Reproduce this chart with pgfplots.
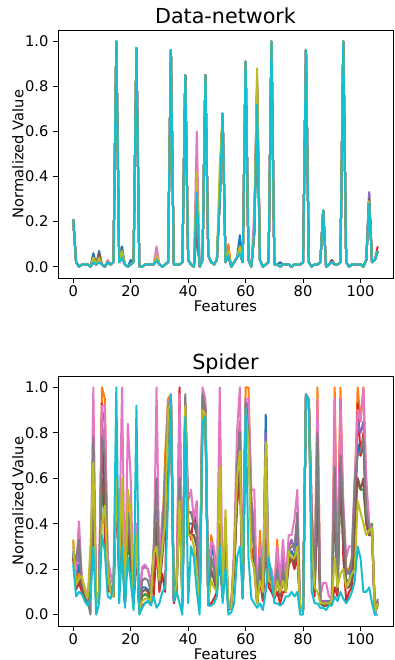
\documentclass[border=0pt]{standalone}
\usepackage{pgfplots}
\pgfplotsset{compat=1.18}
\usepackage{pgfplotstable}
\usepackage{fontspec}
\setmainfont{DejaVu Sans}
\definecolor{cb}{HTML}{1F77B4}
\definecolor{co}{HTML}{FF7F0E}
\definecolor{cg}{HTML}{2CA02C}
\definecolor{cr}{HTML}{D62728}
\definecolor{cp}{HTML}{9467BD}
\definecolor{cn}{HTML}{8C564B}
\definecolor{ck}{HTML}{E377C2}
\definecolor{cy}{HTML}{7F7F7F}
\definecolor{cl}{HTML}{BCBD22}
\definecolor{cc}{HTML}{17BECF}

\pgfplotstableread{
x b o g r p n k y l c
0 .21 .21 .21 .21 .21 .21 .21 .21 .21 .21
1 .02 .02 .02 .02 .02 .02 .02 .02 .02 .02
2 .00 .00 .00 .00 .00 .00 .00 .00 .00 .00
3 .01 .01 .01 .01 .01 .01 .01 .01 .01 .01
4 .01 .01 .01 .01 .01 .01 .01 .01 .01 .01
5 .01 .01 .01 .01 .01 .01 .01 .01 .01 .01
6 .00 .00 .00 .00 .00 .00 .00 .00 .00 .00
7 .06 .02 .02 .03 .02 .04 .02 .02 .04 .02
8 .01 .01 .01 .01 .01 .01 .01 .01 .01 .01
9 .07 .03 .02 .04 .05 .06 .02 .02 .04 .02
10 .01 .01 .01 .01 .01 .01 .01 .01 .01 .01
11 .00 .00 .00 .00 .00 .00 .00 .00 .00 .00
12 .02 .02 .02 .02 .02 .02 .03 .02 .02 .02
13 .01 .01 .01 .01 .01 .01 .01 .01 .01 .01
14 .02 .02 .02 .02 .02 .02 .02 .02 .02 .02
15 1.0 1.0 1.0 1.0 1.0 1.0 1.0 1.0 1.0 1.0
16 .02 .02 .02 .02 .02 .02 .02 .02 .02 .02
17 .09 .04 .04 .04 .04 .06 .04 .04 .07 .04
18 .01 .01 .01 .01 .01 .01 .01 .01 .01 .01
19 .00 .00 .00 .00 .00 .00 .00 .00 .00 .00
20 .03 .01 .01 .01 .01 .01 .01 .01 .01 .01
21 .02 .02 .02 .02 .02 .02 .02 .02 .02 .02
22 .97 .97 .97 .97 .97 .97 .97 .97 .97 .97
23 .00 .00 .00 .00 .00 .00 .00 .00 .00 .00
24 .00 .00 .00 .00 .00 .00 .00 .00 .00 .00
25 .01 .01 .01 .01 .01 .01 .01 .01 .01 .01
26 .01 .01 .01 .01 .01 .01 .01 .01 .01 .01
27 .01 .01 .01 .01 .01 .01 .01 .01 .01 .01
28 .01 .01 .01 .01 .01 .01 .01 .01 .01 .01
29 .03 .03 .03 .03 .03 .04 .09 .03 .05 .03
30 .01 .01 .01 .01 .01 .01 .01 .01 .01 .01
31 .00 .00 .00 .00 .00 .00 .00 .00 .00 .00
32 .01 .01 .01 .01 .01 .01 .01 .01 .01 .01
33 .02 .02 .02 .02 .02 .02 .02 .02 .02 .02
34 .96 .96 .96 .96 .96 .96 .96 .96 .96 .96
35 .01 .01 .01 .01 .01 .01 .01 .01 .01 .01
36 .01 .01 .01 .01 .01 .01 .01 .01 .01 .01
37 .01 .01 .01 .01 .01 .01 .01 .01 .01 .01
38 .02 .02 .02 .02 .02 .02 .02 .02 .02 .02
39 .85 .85 .85 .85 .85 .85 .85 .85 .85 .85
40 .03 .03 .03 .03 .03 .03 .03 .03 .03 .03
41 .01 .01 .01 .01 .01 .01 .01 .01 .01 .01
42 .00 .00 .00 .00 .00 .00 .00 .00 .00 .00
43 .15 .25 .20 .18 .22 .20 .60 .25 .42 .33
44 .00 .00 .00 .00 .00 .00 .00 .00 .00 .00
45 .03 .03 .03 .03 .03 .03 .03 .03 .03 .03
46 .85 .85 .85 .85 .85 .85 .85 .85 .85 .85
47 .05 .05 .05 .05 .05 .05 .05 .05 .05 .05
48 .02 .02 .02 .02 .02 .02 .02 .02 .02 .02
49 .01 .01 .01 .01 .01 .01 .01 .01 .01 .01
50 .03 .03 .03 .03 .03 .03 .03 .03 .03 .03
51 .30 .30 .30 .30 .30 .30 .30 .30 .45 .30
52 .68 .68 .68 .68 .68 .68 .68 .68 .68 .68
53 .02 .02 .02 .02 .02 .02 .02 .02 .02 .02
54 .05 .10 .05 .05 .05 .05 .05 .05 .07 .05
55 .00 .00 .00 .00 .00 .00 .00 .00 .00 .00
56 .02 .02 .02 .02 .02 .02 .02 .02 .02 .02
57 .04 .04 .04 .04 .04 .04 .04 .04 .04 .04
58 .14 .06 .06 .06 .06 .08 .08 .06 .09 .06
59 .02 .02 .02 .02 .02 .02 .02 .02 .02 .02
60 .91 .91 .91 .91 .91 .91 .91 .91 .91 .91
61 .03 .03 .03 .03 .03 .03 .03 .03 .03 .03
62 .00 .00 .00 .00 .00 .00 .00 .00 .00 .00
63 .15 .15 .15 .15 .15 .15 .25 .15 .15 .15
64 .72 .80 .72 .78 .85 .82 .75 .74 .88 .72
65 .03 .03 .03 .03 .03 .03 .03 .03 .03 .03
66 .00 .00 .00 .00 .00 .00 .00 .00 .00 .00
67 .01 .01 .01 .01 .01 .01 .01 .01 .01 .01
68 .02 .02 .02 .02 .02 .02 .02 .02 .02 .02
69 1.0 1.0 1.0 1.0 1.0 1.0 1.0 1.0 1.0 1.0
70 .01 .01 .01 .01 .01 .01 .01 .01 .01 .01
71 .01 .01 .01 .01 .01 .01 .01 .01 .01 .01
72 .02 .00 .00 .00 .00 .00 .00 .00 .00 .00
73 .01 .01 .01 .01 .01 .01 .01 .01 .01 .01
74 .01 .01 .01 .01 .01 .01 .01 .01 .01 .01
75 .01 .01 .01 .01 .01 .01 .01 .01 .01 .01
76 .00 .00 .00 .00 .00 .00 .00 .00 .00 .00
77 .01 .01 .01 .01 .01 .01 .01 .01 .01 .01
78 .01 .01 .01 .01 .01 .01 .01 .01 .01 .01
79 .01 .01 .01 .01 .01 .01 .01 .01 .01 .01
80 .02 .02 .02 .02 .02 .02 .02 .02 .02 .02
81 .96 .96 .96 .96 .96 .96 .96 .96 .96 .96
82 .02 .02 .02 .02 .02 .02 .02 .02 .02 .02
83 .00 .00 .00 .00 .00 .00 .00 .00 .00 .00
84 .01 .01 .01 .01 .01 .01 .01 .01 .01 .01
85 .01 .01 .01 .01 .01 .01 .01 .01 .01 .01
86 .02 .02 .02 .02 .02 .02 .02 .02 .02 .02
87 .25 .25 .25 .25 .25 .25 .25 .25 .25 .25
88 .00 .00 .00 .00 .00 .00 .00 .00 .00 .00
89 .01 .01 .01 .01 .01 .01 .01 .01 .01 .01
90 .02 .02 .02 .03 .02 .03 .02 .02 .02 .02
91 .01 .01 .01 .01 .01 .01 .01 .01 .01 .01
92 .01 .01 .01 .01 .01 .01 .01 .01 .01 .01
93 .02 .02 .02 .02 .02 .02 .02 .02 .02 .02
94 1.0 1.0 1.0 1.0 1.0 1.0 1.0 1.0 1.0 1.0
95 .02 .02 .02 .02 .02 .02 .02 .02 .02 .02
96 .00 .00 .00 .00 .00 .00 .00 .00 .00 .00
97 .01 .01 .01 .01 .01 .01 .01 .01 .01 .01
98 .01 .01 .01 .01 .01 .01 .01 .01 .01 .01
99 .01 .01 .01 .01 .01 .01 .01 .01 .01 .01
100 .01 .01 .01 .01 .01 .01 .01 .01 .01 .01
101 .00 .00 .00 .00 .00 .00 .00 .00 .00 .00
102 .03 .03 .03 .03 .03 .03 .03 .03 .03 .03
103 .33 .29 .29 .30 .33 .30 .29 .29 .29 .28
104 .02 .02 .02 .02 .02 .02 .02 .02 .02 .02
105 .03 .03 .03 .03 .03 .03 .03 .03 .03 .03
106 .07 .07 .07 .09 .07 .07 .07 .07 .07 .07
}\topdata

\pgfplotstableread{
x b o g r p n k y l c
0 .27 .33 .25 .25 .28 .26 .30 .27 .32 .22
1 .15 .14 .12 .11 .18 .13 .20 .24 .13 .08
2 .22 .18 .15 .14 .28 .16 .41 .33 .16 .10
3 .12 .15 .14 .10 .14 .12 .16 .15 .17 .09
4 .08 .10 .09 .08 .10 .08 .12 .10 .11 .06
5 .05 .07 .06 .05 .07 .05 .08 .06 .07 .04
6 .10 .15 .12 .12 .10 .10 .15 .00 .30 .07
7 .55 .60 .50 .45 .60 .50 1.0 .78 .67 .30
8 .05 .06 .05 .05 .06 .05 .08 .05 .05 .00
9 .08 .10 .08 .07 .09 .08 .10 .09 .10 .05
10 .72 1.0 .55 .93 .90 .60 .92 .78 .40 .35
11 .60 .95 .45 .33 .85 .50 .92 .70 .48 .28
12 .15 .20 .15 .10 .18 .14 .25 .20 .18 .08
13 .10 .12 .10 .12 .12 .10 .18 .12 .10 .07
14 .08 .10 .08 .08 .09 .08 .12 .10 .08 .12
15 .60 .65 .60 .55 .65 .55 .70 .65 .60 1.0
16 .20 .25 .20 .15 .25 .18 .30 .25 .22 .05
17 .30 .45 .30 .35 .35 .30 1.0 .40 .60 .30
18 .05 .06 .05 .05 .06 .05 .07 .06 .05 .03
19 .35 .50 .35 .40 .40 .35 .84 .45 .55 .25
20 .25 .30 .20 .30 .30 .25 .60 .35 .45 .15
21 .05 .06 .05 .05 .06 .05 .08 .06 .06 .02
22 .30 .35 .30 .30 .35 .30 .40 .35 .35 .92
23 .02 .02 .02 .01 .03 .02 .03 .02 .02 .00
24 .12 .08 .08 .04 .20 .10 .21 .15 .06 .03
25 .12 .09 .09 .05 .21 .11 .22 .16 .07 .05
26 .11 .09 .08 .06 .20 .10 .20 .15 .07 .06
27 .08 .07 .06 .05 .14 .07 .15 .10 .06 .04
28 .25 .20 .22 .08 .25 .20 .22 .30 .27 .08
29 .45 .50 .40 .30 .55 .40 1.0 .60 .30 .03
30 .15 .18 .15 .10 .18 .12 .20 .18 .15 .05
31 .30 .35 .30 .18 .40 .25 .45 .35 .30 .10
32 .55 .70 .45 .10 .55 .40 .50 .60 .40 .12
33 .90 .95 .85 .90 .92 .88 .93 .90 .90 .50
34 .93 .97 .92 .95 .95 .92 .96 .96 .94 .97
35 .06 .08 .07 .05 .07 .06 .08 .07 .08 .06
36 .12 .15 .12 .10 .14 .12 .16 .15 .13 .10
37 .60 .70 .50 1.0 .65 .55 .97 .60 .50 .05
38 .05 .06 .05 .04 .06 .05 .08 .06 .05 .00
39 .90 .92 .88 .90 .92 .90 .95 .97 .92 .87
40 .40 .45 .35 .40 .45 .38 .50 .45 .35 .05
41 .40 .45 .35 .33 .45 .35 .55 .45 .35 .30
42 .40 .42 .35 .45 .40 .35 .42 .40 .30 .25
43 .35 .40 .30 .38 .40 .30 .50 .40 .20 .10
44 .03 .04 .03 .03 .04 .03 .05 .04 .03 .00
45 .90 .95 .85 .92 .95 .90 1.0 .97 .90 .85
46 .90 .93 .85 .90 .92 .88 .95 .90 .88 .87
47 .05 .06 .05 .04 .05 .05 .06 .05 .05 .04
48 .30 .35 .25 .05 .32 .20 .32 .25 .15 .04
49 .25 .28 .20 .07 .28 .15 .30 .20 .12 .05
50 .10 .12 .10 .10 .12 .10 .15 .12 .10 .08
51 .30 .35 .30 .25 .35 .30 1.0 .40 .65 .30
52 .08 .10 .08 .07 .09 .08 .12 .10 .10 .05
53 .30 .32 .30 .25 .30 .28 .35 .30 .46 .20
54 .03 .03 .03 .02 .03 .03 .04 .03 .03 .00
55 .03 .04 .03 .03 .04 .03 .04 .04 .03 .01
56 .20 .25 .20 .20 .25 .20 .30 .25 .25 .05
57 .55 .60 .50 .48 .60 .50 .80 .65 .60 .25
58 .80 .85 .75 .60 .85 .70 1.0 .80 .72 .30
59 .08 .10 .08 .07 .10 .08 .12 .10 .08 .07
60 .92 1.0 .90 .92 .95 .90 .95 .93 .90 .91
61 .85 1.0 .80 .85 .90 .80 .95 .80 .75 .25
62 .45 .50 .40 .30 .50 .40 .55 .45 .25 .07
63 .30 .40 .30 .20 .35 .30 .55 .30 .20 .05
64 .05 .08 .05 .05 .06 .05 .08 .06 .05 .03
65 .25 .37 .20 .15 .28 .20 .30 .25 .15 .05
66 .08 .10 .08 .06 .08 .07 .12 .10 .10 .02
67 .88 .40 .30 .35 .80 .30 .45 .30 .76 .10
68 .18 .20 .15 .12 .20 .15 .22 .18 .15 .25
69 .15 .18 .12 .10 .15 .12 .20 .15 .14 .18
70 .08 .10 .08 .07 .10 .08 .12 .08 .08 .05
71 .25 .33 .20 .10 .25 .15 .30 .20 .15 .05
72 .10 .12 .08 .05 .10 .08 .15 .10 .10 .04
73 .20 .25 .18 .10 .25 .15 .33 .20 .15 .05
74 .12 .12 .10 .10 .15 .10 .15 .12 .10 .08
75 .25 .30 .22 .25 .30 .22 .35 .28 .28 .08
76 .28 .32 .25 .25 .33 .25 .35 .30 .25 .10
77 .25 .30 .22 .20 .28 .22 .42 .30 .25 .08
78 .35 .40 .30 .25 .40 .30 .55 .45 .30 .10
79 .02 .02 .02 .02 .02 .02 .03 .02 .02 .00
80 .02 .02 .02 .02 .02 .02 .03 .02 .02 .00
81 .96 .97 .95 .96 .96 .95 .97 .96 .95 .97
82 .94 .95 .93 .94 .94 .93 .95 .94 .93 .94
83 .40 .45 .35 .30 .40 .35 .50 .45 .30 .10
84 .10 .12 .10 .08 .12 .10 .15 .12 .12 .05
85 .60 1.0 .50 .55 .70 .55 .95 .80 .10 .05
86 .05 .06 .05 .05 .06 .05 .08 .06 .05 .03
87 .05 .05 .04 .04 .06 .04 .14 .05 .05 .03
88 .05 .05 .04 .04 .06 .04 .14 .05 .05 .02
89 .05 .06 .05 .05 .06 .05 .08 .06 .05 .04
90 .06 .06 .05 .05 .06 .05 .07 .06 .06 .04
91 .60 1.0 .50 .12 .70 .50 .95 .65 .25 .08
92 .10 .12 .10 .08 .12 .10 .15 .12 .12 .06
93 .70 1.0 .60 .95 .75 .60 .95 .70 .18 .10
94 .35 .45 .30 .25 .40 .30 .50 .45 .20 .07
95 .15 .20 .12 .06 .18 .12 .25 .20 .12 .05
96 .15 .20 .12 .10 .18 .12 .30 .18 .15 .07
97 .20 .25 .15 .12 .22 .15 .30 .25 .18 .10
98 .45 .55 .40 .30 .50 .40 .60 .60 .20 .15
99 .75 1.0 .60 .93 .85 .60 .90 .70 .50 .30
100 .70 .85 .55 .70 .80 .55 .85 .72 .45 .25
101 .75 1.0 .55 .80 .85 .60 1.0 .78 .40 .10
102 .45 .55 .40 .40 .55 .40 .60 .45 .35 .10
103 .37 .40 .35 .35 .40 .35 .40 .38 .37 .12
104 .37 .38 .40 .35 .38 .35 .38 .35 .38 .05
105 .00 .02 .01 .02 .01 .01 .02 .00 .01 .00
106 .05 .05 .04 .05 .06 .05 .06 .07 .05 .00
}\botdata

\pgfplotsset{
  mpl/.style={
    scale only axis, width=251.25pt,
    xmin=-5.3, xmax=111.3, ymin=-0.05, ymax=1.05,
    xtick={0,20,40,60,80,100},
    ytick={0,0.2,0.4,0.6,0.8,1.0},
    yticklabel style={/pgf/number format/.cd, fixed, fixed zerofill, precision=1},
    /pgf/number format/assume math mode=true,
    tick align=outside, xtick pos=bottom, ytick pos=left,
    major tick length=3.6pt,
    tick style={black, line width=0.6pt},
    axis line style={line width=0.6pt},
    ticklabel style={font=\fontsize{11}{13}\selectfont},
    xticklabel style={yshift=1.2pt},
    label style={font=\fontsize{11}{13}\selectfont, inner sep=0.5pt},
    x label style={at={(axis description cs:0.5,0)}, anchor=center, yshift=-21.5pt},
    y label style={at={(axis description cs:0,0.5)}, anchor=center, yshift=30pt},
    title style={font=\fontsize{15.5}{18}\selectfont, at={(axis description cs:0.5,1)}, anchor=base, yshift=-1.5pt},
    xlabel={Features}, ylabel={Normalized Value},
    every axis plot/.append style={line width=1.5pt, no markers, line join=round},
  }
}

\begin{document}
\begin{tikzpicture}
\useasboundingbox (0,0) rectangle (295.5pt,495pt);
\begin{axis}[mpl, at={(43.5pt,286.5pt)}, anchor=south west, height=186pt, title={Data-network}]
\addplot[cb] table[x=x,y=b]{\topdata};
\addplot[co] table[x=x,y=o]{\topdata};
\addplot[cg] table[x=x,y=g]{\topdata};
\addplot[cr] table[x=x,y=r]{\topdata};
\addplot[cp] table[x=x,y=p]{\topdata};
\addplot[cn] table[x=x,y=n]{\topdata};
\addplot[ck] table[x=x,y=k]{\topdata};
\addplot[cy] table[x=x,y=y]{\topdata};
\addplot[cl] table[x=x,y=l]{\topdata};
\addplot[cc] table[x=x,y=c]{\topdata};
\end{axis}
\begin{axis}[mpl, at={(43.5pt,25.5pt)}, anchor=south west, height=187.5pt, title={Spider}, x label style={yshift=0.6pt}]
\addplot[cb] table[x=x,y=b]{\botdata};
\addplot[co] table[x=x,y=o]{\botdata};
\addplot[cg] table[x=x,y=g]{\botdata};
\addplot[cr] table[x=x,y=r]{\botdata};
\addplot[cp] table[x=x,y=p]{\botdata};
\addplot[cn] table[x=x,y=n]{\botdata};
\addplot[ck] table[x=x,y=k]{\botdata};
\addplot[cy] table[x=x,y=y]{\botdata};
\addplot[cl] table[x=x,y=l]{\botdata};
\addplot[cc] table[x=x,y=c]{\botdata};
\end{axis}
\end{tikzpicture}
\end{document}
